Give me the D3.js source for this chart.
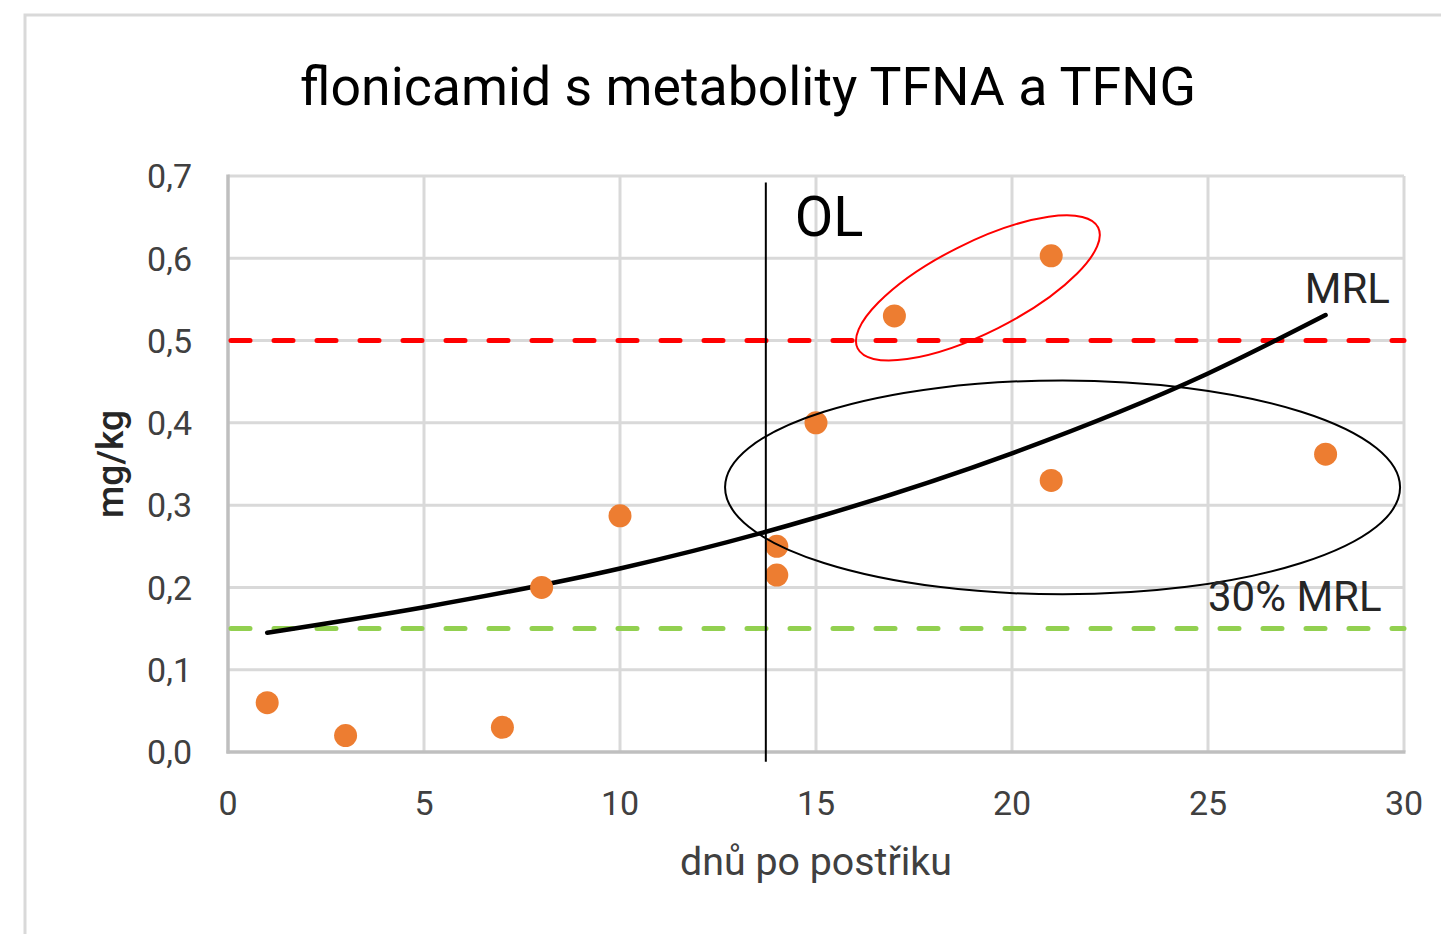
<!DOCTYPE html>
<html>
<head>
<meta charset="utf-8">
<script src="https://cdn.jsdelivr.net/npm/d3@7"></script>
<style>
  html, body { margin: 0; padding: 0; background: #fff; }
  svg { display: block; font-family: Roboto, "Noto Sans", sans-serif; }
</style>
</head>
<body>
<svg id="chart" width="1441" height="934"></svg>
<script>
// residues, flonicamid + TFNA + TFNG
var days     = [1, 3, 7, 8, 10, 14, 14, 15, 17, 21, 21, 28];
var residues = [0.06, 0.02, 0.03, 0.20, 0.287, 0.25, 0.215, 0.40, 0.53, 0.603, 0.33, 0.362];

// trend curve
var trendDays = [1, 5, 10, 15, 20, 25, 28];
var trendVals = [0.145, 0.176, 0.223, 0.285, 0.363, 0.460, 0.531];

var xTicks = [0, 5, 10, 15, 20, 25, 30];
var yTicks = [0, 0.1, 0.2, 0.3, 0.4, 0.5, 0.6, 0.7];

var mrl = 0.5, mrl30 = 0.15;
var olDay = 13.72;

var title = "flonicamid s metabolity TFNA a TFNG";
var xTitle = "dnů po postřiku";
var yTitle = "mg/kg";

var svg = d3.select("#chart");
var width = 1441, height = 934;
var margin = {top: 176, right: 37, bottom: 182, left: 228};

var x = d3.scaleLinear().domain([0, 30]).range([margin.left, width - margin.right]);
var y = d3.scaleLinear().domain([0, 0.7]).range([height - margin.bottom, margin.top]);

var cz = d3.formatLocale({decimal: ",", thousands: " ", grouping: [3], currency: ["", " Kč"]});
var fmtY = cz.format(".1f");

// outer chart frame (only top + left edges visible)
svg.append("path")
    .attr("d", "M25," + height + "V15H" + width)
    .attr("fill", "none")
    .attr("stroke", "#d9d9d9")
    .attr("stroke-width", 3);

// gridlines
svg.append("g")
  .selectAll("line")
  .data(yTicks.slice(1))
  .join("line")
    .attr("x1", x(0)).attr("x2", x(30))
    .attr("y1", d => y(d)).attr("y2", d => y(d))
    .attr("stroke", "#d9d9d9").attr("stroke-width", 3);

svg.append("g")
  .selectAll("line")
  .data(xTicks.slice(1))
  .join("line")
    .attr("x1", d => x(d)).attr("x2", d => x(d))
    .attr("y1", y(0)).attr("y2", y(0.7))
    .attr("stroke", "#d9d9d9").attr("stroke-width", 3);

// axis lines
svg.append("line")
    .attr("x1", x(0)).attr("x2", x(0)).attr("y1", y(0) + 1.5).attr("y2", y(0.7) - 1.5)
    .attr("stroke", "#bfbfbf").attr("stroke-width", 3.5);
svg.append("line")
    .attr("x1", x(0) - 1.5).attr("x2", x(30) + 1.5).attr("y1", y(0)).attr("y2", y(0))
    .attr("stroke", "#bfbfbf").attr("stroke-width", 3.5);

// tick labels
svg.append("g")
  .selectAll("text")
  .data(yTicks)
  .join("text")
    .attr("x", 192)
    .attr("y", d => y(d))
    .attr("dy", "0.36em")
    .attr("text-anchor", "end")
    .attr("font-size", 34)
    .attr("fill", "#404040")
    .text(d => fmtY(d));

svg.append("g")
  .selectAll("text")
  .data(xTicks)
  .join("text")
    .attr("x", d => x(d))
    .attr("y", 815)
    .attr("text-anchor", "middle")
    .attr("font-size", 34)
    .attr("fill", "#404040")
    .text(d => d);

// reference lines
[[mrl, "#ff0000"], [mrl30, "#92d050"]].forEach(function(r) {
  svg.append("line")
      .attr("x1", x(0) + 3).attr("x2", x(30))
      .attr("y1", y(r[0])).attr("y2", y(r[0]))
      .attr("stroke", r[1])
      .attr("stroke-width", 5)
      .attr("stroke-linecap", "round")
      .attr("stroke-dasharray", "19,24");
});

// trend curve
var line = d3.line()
    .x(d => x(d[0]))
    .y(d => y(d[1]))
    .curve(d3.curveMonotoneX);

svg.append("path")
    .datum(d3.zip(trendDays, trendVals))
    .attr("d", line)
    .attr("fill", "none")
    .attr("stroke", "#000")
    .attr("stroke-width", 4.5)
    .attr("stroke-linecap", "round");

// points
svg.append("g")
  .selectAll("circle")
  .data(d3.zip(days, residues))
  .join("circle")
    .attr("cx", d => x(d[0]))
    .attr("cy", d => y(d[1]))
    .attr("r", 11.5)
    .attr("fill", "#ed7d31");

// OL line
svg.append("line")
    .attr("x1", x(olDay)).attr("x2", x(olDay))
    .attr("y1", y(0.692)).attr("y2", y(-0.012))
    .attr("stroke", "#000").attr("stroke-width", 2);

// annotation ellipses
svg.append("ellipse")
    .attr("cx", x(21.29)).attr("cy", y(0.3216))
    .attr("rx", x(21.29 + 8.61) - x(21.29))
    .attr("ry", y(0) - y(0.13))
    .attr("fill", "none").attr("stroke", "#000").attr("stroke-width", 2);

svg.append("ellipse")
    .attr("transform", "translate(" + x(19.13) + "," + y(0.564) + ") rotate(-26.7)")
    .attr("rx", 134.6).attr("ry", 44.9)
    .attr("fill", "none").attr("stroke", "#ff0000").attr("stroke-width", 2);

// annotation labels
svg.append("text")
    .attr("x", x(14.46)).attr("y", y(0.627))
    .attr("font-size", 56).attr("fill", "#000")
    .text("OL");
svg.append("text")
    .attr("x", x(27.47)).attr("y", y(0.546))
    .attr("font-size", 42).attr("fill", "#262626")
    .text("MRL");
svg.append("text")
    .attr("x", x(25.0)).attr("y", y(0.1708))
    .attr("font-size", 42).attr("fill", "#262626")
    .text("30% MRL");

// titles, sized to the reference widths
function fit(sel, w) {
  var len = sel.node().getComputedTextLength();
  var fs = +sel.attr("font-size");
  sel.attr("font-size", fs * w / len);
}

var t = svg.append("text")
    .attr("x", 748).attr("y", 105)
    .attr("text-anchor", "middle")
    .attr("font-size", 50)
    .attr("fill", "#000")
    .text(title);
fit(t, 896);

var xt = svg.append("text")
    .attr("x", 816).attr("y", 875)
    .attr("text-anchor", "middle")
    .attr("font-size", 38)
    .attr("fill", "#404040")
    .text(xTitle);
fit(xt, 272);

var yt = svg.append("text")
    .attr("transform", "translate(123,464) rotate(-90)")
    .attr("text-anchor", "middle")
    .attr("font-size", 38)
    .attr("font-weight", 500)
    .attr("fill", "#262626")
    .text(yTitle);
fit(yt, 108);
</script>
</body>
</html>
